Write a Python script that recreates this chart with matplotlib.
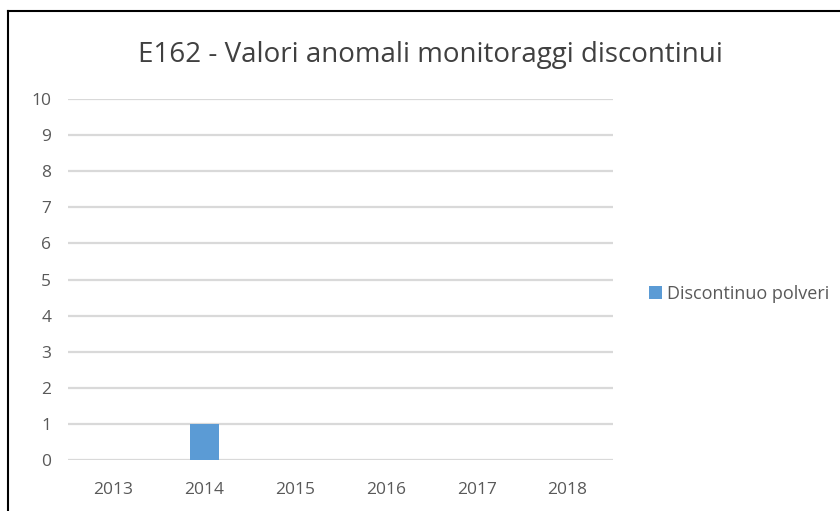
import matplotlib
matplotlib.use("Agg")
import matplotlib.pyplot as plt
from matplotlib.lines import Line2D

years = ["2013", "2014", "2015", "2016", "2017", "2018"]
values = [0, 1, 0, 0, 0, 0]
series_name = "Discontinuo polveri"
title = "E162 - Valori anomali monitoraggi discontinui"

plt.rcParams['font.family'] = ['Open Sans', 'DejaVu Sans']

fig = plt.figure(figsize=(8.4, 5.11), dpi=100)
ax = fig.add_axes([68/840, 1-460/511, (613-68)/840, (460-99)/511])

x = list(range(len(years)))
ax.bar(x, values, width=0.32, color="#5b9bd5", label=series_name, zorder=3)
ax.set_xlim(-0.5, len(years)-0.5)
ax.set_ylim(0, 10)
ax.set_yticks(range(0, 11))
ax.set_xticks(x)
ax.set_xticklabels(years)
ax.yaxis.grid(True, color="#d9d9d9", linewidth=1.6, zorder=0)
ax.set_axisbelow(True)
for s in ax.spines.values():
    s.set_visible(False)
ax.tick_params(axis='both', length=0, colors="#595959", labelsize=12.5)
ax.tick_params(axis='x', pad=16)
ax.tick_params(axis='y', pad=12)

fig.text(0.512, 1-55/511, title, ha='center', va='center', fontsize=20, color="#404040")

leg = fig.legend(loc='center left', bbox_to_anchor=(633/840, 1-294/511), frameon=False,
                 fontsize=13, handlelength=0.7, handleheight=0.7, handletextpad=0.3, labelcolor="#595959")

fig.add_artist(Line2D([8/840, 1.0], [1-11/511, 1-11/511], color='black', linewidth=1.5, transform=fig.transFigure))
fig.add_artist(Line2D([8/840, 8/840], [0, 1-11/511], color='black', linewidth=1.5, transform=fig.transFigure))

fig.savefig("out.png", dpi=100)
